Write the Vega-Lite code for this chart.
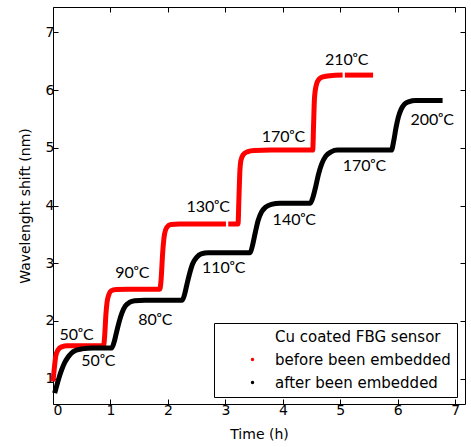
{
  "$schema": "https://vega.github.io/schema/vega-lite/v6.json",
  "width": 412,
  "height": 397,
  "autosize": {"type": "none"},
  "padding": {"left": 53, "top": 7, "right": 6, "bottom": 43},
  "config": {
    "view": {"stroke": "#000", "strokeWidth": 1},
    "axis": {"grid": false, "domain": false, "tickColor": "#000", "tickSize": -5, "tickWidth": 1,
             "labelFont": "DejaVu Sans", "labelFontSize": 14, "labelColor": "#000",
             "titleFont": "DejaVu Sans", "titleFontSize": 14, "titleFontWeight": "normal", "titleColor": "#000"}
  },
  "layer": [
    {
      "data": {"values": [
        {"s": "before been embedded", "seg": "r1", "t": 0.0, "y": 0.95},
        {"s": "before been embedded", "seg": "r1", "t": 0.02, "y": 1.15},
        {"s": "before been embedded", "seg": "r1", "t": 0.05, "y": 1.4},
        {"s": "before been embedded", "seg": "r1", "t": 0.09, "y": 1.5},
        {"s": "before been embedded", "seg": "r1", "t": 0.15, "y": 1.55},
        {"s": "before been embedded", "seg": "r1", "t": 0.25, "y": 1.57},
        {"s": "before been embedded", "seg": "r1", "t": 0.5, "y": 1.57},
        {"s": "before been embedded", "seg": "r1", "t": 0.88, "y": 1.57},
        {"s": "before been embedded", "seg": "r1", "t": 0.9, "y": 1.75},
        {"s": "before been embedded", "seg": "r1", "t": 0.92, "y": 2.1},
        {"s": "before been embedded", "seg": "r1", "t": 0.94, "y": 2.32},
        {"s": "before been embedded", "seg": "r1", "t": 0.97, "y": 2.45},
        {"s": "before been embedded", "seg": "r1", "t": 1.01, "y": 2.52},
        {"s": "before been embedded", "seg": "r1", "t": 1.1, "y": 2.545},
        {"s": "before been embedded", "seg": "r1", "t": 1.3, "y": 2.55},
        {"s": "before been embedded", "seg": "r1", "t": 1.86, "y": 2.55},
        {"s": "before been embedded", "seg": "r1", "t": 1.88, "y": 2.7},
        {"s": "before been embedded", "seg": "r1", "t": 1.91, "y": 3.2},
        {"s": "before been embedded", "seg": "r1", "t": 1.94, "y": 3.5},
        {"s": "before been embedded", "seg": "r1", "t": 1.98, "y": 3.62},
        {"s": "before been embedded", "seg": "r1", "t": 2.05, "y": 3.67},
        {"s": "before been embedded", "seg": "r1", "t": 2.2, "y": 3.68},
        {"s": "before been embedded", "seg": "r1", "t": 3.01, "y": 3.68},
        {"s": "before been embedded", "seg": "r2", "t": 3.05, "y": 3.68},
        {"s": "before been embedded", "seg": "r2", "t": 3.22, "y": 3.68},
        {"s": "before been embedded", "seg": "r2", "t": 3.235, "y": 4.1},
        {"s": "before been embedded", "seg": "r2", "t": 3.25, "y": 4.55},
        {"s": "before been embedded", "seg": "r2", "t": 3.27, "y": 4.78},
        {"s": "before been embedded", "seg": "r2", "t": 3.31, "y": 4.88},
        {"s": "before been embedded", "seg": "r2", "t": 3.38, "y": 4.93},
        {"s": "before been embedded", "seg": "r2", "t": 3.5, "y": 4.955},
        {"s": "before been embedded", "seg": "r2", "t": 3.8, "y": 4.96},
        {"s": "before been embedded", "seg": "r2", "t": 4.52, "y": 4.96},
        {"s": "before been embedded", "seg": "r2", "t": 4.535, "y": 5.4},
        {"s": "before been embedded", "seg": "r2", "t": 4.55, "y": 5.85},
        {"s": "before been embedded", "seg": "r2", "t": 4.58, "y": 6.08},
        {"s": "before been embedded", "seg": "r2", "t": 4.63, "y": 6.19},
        {"s": "before been embedded", "seg": "r2", "t": 4.7, "y": 6.23},
        {"s": "before been embedded", "seg": "r2", "t": 4.82, "y": 6.25},
        {"s": "before been embedded", "seg": "r2", "t": 5.04, "y": 6.26},
        {"s": "before been embedded", "seg": "r3", "t": 5.08, "y": 6.26},
        {"s": "before been embedded", "seg": "r3", "t": 5.57, "y": 6.26},
        {"s": "after been embedded", "seg": "b1", "t": 0.03, "y": 0.75},
        {"s": "after been embedded", "seg": "b1", "t": 0.06, "y": 0.86},
        {"s": "after been embedded", "seg": "b1", "t": 0.1, "y": 1.0},
        {"s": "after been embedded", "seg": "b1", "t": 0.15, "y": 1.15},
        {"s": "after been embedded", "seg": "b1", "t": 0.2, "y": 1.27},
        {"s": "after been embedded", "seg": "b1", "t": 0.26, "y": 1.37},
        {"s": "after been embedded", "seg": "b1", "t": 0.32, "y": 1.44},
        {"s": "after been embedded", "seg": "b1", "t": 0.4, "y": 1.49},
        {"s": "after been embedded", "seg": "b1", "t": 0.5, "y": 1.515},
        {"s": "after been embedded", "seg": "b1", "t": 0.7, "y": 1.53},
        {"s": "after been embedded", "seg": "b1", "t": 1.02, "y": 1.53},
        {"s": "after been embedded", "seg": "b1", "t": 1.06, "y": 1.62},
        {"s": "after been embedded", "seg": "b1", "t": 1.1, "y": 1.78},
        {"s": "after been embedded", "seg": "b1", "t": 1.15, "y": 1.98},
        {"s": "after been embedded", "seg": "b1", "t": 1.2, "y": 2.14},
        {"s": "after been embedded", "seg": "b1", "t": 1.26, "y": 2.26},
        {"s": "after been embedded", "seg": "b1", "t": 1.33, "y": 2.32},
        {"s": "after been embedded", "seg": "b1", "t": 1.42, "y": 2.35},
        {"s": "after been embedded", "seg": "b1", "t": 1.6, "y": 2.36},
        {"s": "after been embedded", "seg": "b1", "t": 2.25, "y": 2.36},
        {"s": "after been embedded", "seg": "b1", "t": 2.29, "y": 2.46},
        {"s": "after been embedded", "seg": "b1", "t": 2.33, "y": 2.63},
        {"s": "after been embedded", "seg": "b1", "t": 2.38, "y": 2.83},
        {"s": "after been embedded", "seg": "b1", "t": 2.43, "y": 2.99},
        {"s": "after been embedded", "seg": "b1", "t": 2.5, "y": 3.1},
        {"s": "after been embedded", "seg": "b1", "t": 2.58, "y": 3.16},
        {"s": "after been embedded", "seg": "b1", "t": 2.7, "y": 3.18},
        {"s": "after been embedded", "seg": "b1", "t": 3.43, "y": 3.18},
        {"s": "after been embedded", "seg": "b1", "t": 3.47, "y": 3.3},
        {"s": "after been embedded", "seg": "b1", "t": 3.52, "y": 3.53},
        {"s": "after been embedded", "seg": "b1", "t": 3.57, "y": 3.74},
        {"s": "after been embedded", "seg": "b1", "t": 3.63, "y": 3.89},
        {"s": "after been embedded", "seg": "b1", "t": 3.7, "y": 3.97},
        {"s": "after been embedded", "seg": "b1", "t": 3.8, "y": 4.02},
        {"s": "after been embedded", "seg": "b1", "t": 3.95, "y": 4.04},
        {"s": "after been embedded", "seg": "b1", "t": 4.48, "y": 4.04},
        {"s": "after been embedded", "seg": "b1", "t": 4.52, "y": 4.13},
        {"s": "after been embedded", "seg": "b1", "t": 4.57, "y": 4.32},
        {"s": "after been embedded", "seg": "b1", "t": 4.62, "y": 4.54},
        {"s": "after been embedded", "seg": "b1", "t": 4.68, "y": 4.73},
        {"s": "after been embedded", "seg": "b1", "t": 4.75, "y": 4.86},
        {"s": "after been embedded", "seg": "b1", "t": 4.84, "y": 4.93},
        {"s": "after been embedded", "seg": "b1", "t": 4.95, "y": 4.96},
        {"s": "after been embedded", "seg": "b1", "t": 5.89, "y": 4.96},
        {"s": "after been embedded", "seg": "b1", "t": 5.93, "y": 5.12},
        {"s": "after been embedded", "seg": "b1", "t": 5.97, "y": 5.35},
        {"s": "after been embedded", "seg": "b1", "t": 6.01, "y": 5.53},
        {"s": "after been embedded", "seg": "b1", "t": 6.06, "y": 5.67},
        {"s": "after been embedded", "seg": "b1", "t": 6.12, "y": 5.76},
        {"s": "after been embedded", "seg": "b1", "t": 6.2, "y": 5.8},
        {"s": "after been embedded", "seg": "b1", "t": 6.3, "y": 5.82},
        {"s": "after been embedded", "seg": "b1", "t": 6.78, "y": 5.82}
      ]},
      "mark": {"type": "line", "strokeWidth": 5, "interpolate": "monotone"},
      "encoding": {
        "x": {"field": "t", "type": "quantitative",
              "scale": {"domain": [0, 7.17], "nice": false, "zero": false},
              "axis": {"orient": "bottom", "values": [0,1,2,3,4,5,6,7], "title": "Time (h)", "labelPadding": 4, "titlePadding": 10}},
        "y": {"field": "y", "type": "quantitative",
              "scale": {"domain": [0.56, 7.44], "nice": false, "zero": false},
              "axis": {"orient": "left", "values": [1,2,3,4,5,6,7], "title": "Wavelenght shift (nm)", "labelPadding": 4, "titlePadding": 13}},
        "detail": {"field": "seg"},
        "color": {"field": "s", "type": "nominal",
          "scale": {"domain": ["Cu coated FBG sensor", "before been embedded", "after been embedded"], "range": ["rgba(0,0,0,0)", "#ff0000", "#000000"]},
          "legend": {"title": null, "orient": "none", "legendX": 161, "legendY": 316,
            "symbolType": "circle", "symbolSize": 12, "symbolOffset": 25, "labelOffset": 15, "labelLimit": 0,
            "labelFont": "DejaVu Sans", "labelFontSize": 15, "labelColor": "#000",
            "padding": 6, "rowPadding": 7, "strokeColor": "#000", "fillColor": "#fff",
            "encode": {"symbols": {"update": {"fill": {"scale": "color", "field": "value"}, "stroke": {"value": "transparent"}, "strokeWidth": {"value": 0}}}}}}
      }
    },
    {
      "data": {"values": [
        {"t": 0.41, "y": 1.76, "label": "50ᵒC"},
        {"t": 0.79, "y": 1.31, "label": "50ᵒC"},
        {"t": 1.78, "y": 2.01, "label": "80ᵒC"},
        {"t": 1.38, "y": 2.83, "label": "90ᵒC"},
        {"t": 2.97, "y": 2.92, "label": "110ᵒC"},
        {"t": 2.7, "y": 3.97, "label": "130ᵒC"},
        {"t": 4.01, "y": 5.19, "label": "170ᵒC"},
        {"t": 5.11, "y": 6.52, "label": "210ᵒC"},
        {"t": 4.2, "y": 3.75, "label": "140ᵒC"},
        {"t": 5.42, "y": 4.69, "label": "170ᵒC"},
        {"t": 6.6, "y": 5.48, "label": "200ᵒC"}
      ]},
      "mark": {"type": "text", "font": "Lato, DejaVu Sans", "fontSize": 16, "color": "#000", "align": "center", "baseline": "middle"},
      "encoding": {
        "x": {"field": "t", "type": "quantitative", "axis": {"orient": "top", "values": [0,1,2,3,4,5,6,7], "labels": false, "title": null}},
        "y": {"field": "y", "type": "quantitative", "axis": {"orient": "right", "values": [1,2,3,4,5,6,7], "labels": false, "title": null}},
        "text": {"field": "label"}
      }
    }
  ],
  "resolve": {"axis": {"x": "independent", "y": "independent"}}
}
